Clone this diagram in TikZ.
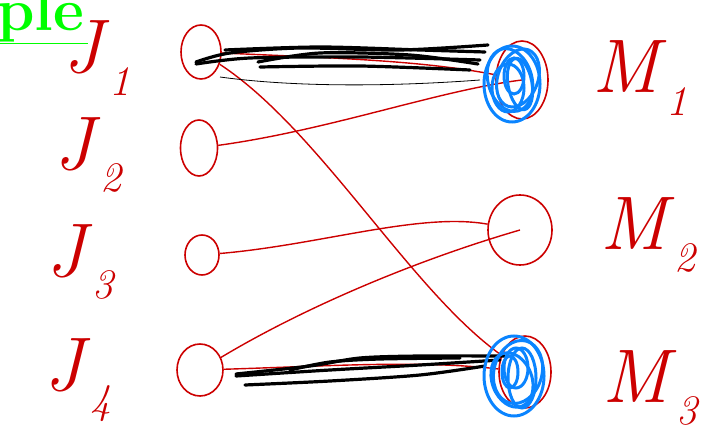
\documentclass[tikz,border=0pt]{standalone}
\usetikzlibrary{shapes.geometric}
\definecolor{pred}{RGB}{204,0,0}
\definecolor{pblue}{RGB}{10,132,255}
\definecolor{pgreen}{RGB}{0,255,0}
\newcommand{\hw}[2]{\textit{#1}\raisebox{-0.3em}{\fontsize{42}{42}\selectfont\itshape #2}}
\tikzset{
  ring/.style={draw=pred, ellipse, line width=1.6pt, inner sep=0pt},
  link/.style={draw=pred, line width=1.4pt},
  ink/.style={draw=black, line width=3.2pt, line cap=round, line join=round},
  blot/.style={draw=pblue, line width=3pt},
  lbl/.style={text=pred, font=\fontsize{76}{76}\selectfont, inner sep=0pt}
}
\begin{document}
\begin{tikzpicture}[x=1pt,y=-1pt]
\useasboundingbox (0,0) rectangle (706,435);
% clipped title
\node[anchor=base west, inner sep=0pt, text=pgreen, font=\fontsize{60}{60}\selectfont\bfseries] (title) at (-3,31) {ple};
\draw[pgreen, line width=1pt] (0,44) -- (88,44);
% labels
\node[lbl] (lj1) at (97,58) {\hw{J}{1}};
\node[lbl] (lj2) at (88,155) {\hw{J}{2}};
\node[lbl] (lj3) at (80,262) {\hw{J}{3}};
\node[lbl] (lj4) at (78,380) {\hw{J}{4}};
\node[lbl] (lm1) at (640,78) {\hw{M}{1}};
\node[lbl] (lm2) at (648,235) {\hw{M}{2}};
\node[lbl] (lm3) at (650,388) {\hw{M}{3}};
% left circles
\node[ring, minimum width=40pt, minimum height=54pt] (j1) at (201,52) {};
\node[ring, minimum width=37pt, minimum height=56pt] (j2) at (199,148) {};
\node[ring, minimum width=34pt, minimum height=40pt] (j3) at (202,255) {};
\node[ring, minimum width=46pt, minimum height=52pt] (j4) at (200,370) {};
% right circles
\node[ring, minimum width=52pt, minimum height=78pt] (m1) at (522,80) {};
\node[ring, minimum width=64pt, minimum height=70pt] (m2) at (520,230) {};
\node[ring, minimum width=52pt, minimum height=72pt] (m3) at (525,372) {};
% connectors
\draw[link] (j1) .. controls (330,58) and (420,60) .. (m1);
\draw[link] (j1) .. controls (320,130) and (410,290) .. (m3);
\draw[link] (j2) .. controls (330,130) and (440,90) .. (m1.center);
\draw[link] (j3) .. controls (320,245) and (420,212) .. (m2);
\draw[link] (j4) .. controls (300,310) and (410,262) .. (m2.center);
\draw[link] (j4) .. controls (330,366) and (420,360) .. (m3);
% thin black stroke
\draw[black, line width=0.8pt] (220,77) .. controls (300,88) and (400,86) .. (480,80);
% black scribbles J1-M1
\draw[ink] plot[smooth] coordinates {(196,62) (230,53) (300,48) (400,50) (488,45)};
\draw[ink] plot[smooth] coordinates {(196,64) (250,58) (360,57) (480,60)};
\draw[ink] plot[smooth] coordinates {(258,62) (320,53) (410,55) (478,64)};
\draw[ink] plot[smooth] coordinates {(260,67) (360,66) (470,70)};
\draw[ink] plot[smooth] coordinates {(225,50) (320,47) (420,50) (485,52)};
% black scribbles J4-M3
\draw[ink] plot[smooth] coordinates {(236,374) (310,366) (360,358) (420,356) (505,356)};
\draw[ink] plot[smooth] coordinates {(236,376) (330,370) (420,365) (500,360)};
\draw[ink] plot[smooth] coordinates {(245,385) (330,381) (420,375) (485,366)};
\draw[ink] plot[smooth] coordinates {(290,370) (330,362) (380,359) (460,358)};
% blue blots
\draw[blot] (512,84) ellipse (28pt and 38pt);
\draw[blot, rotate around={15:(510,80)}] (510,80) ellipse (22pt and 32pt);
\draw[blot, rotate around={-20:(518,78)}] (518,78) ellipse (20pt and 30pt);
\draw[blot] (508,88) ellipse (16pt and 24pt);
\draw[blot, rotate around={10:(520,84)}] (520,84) ellipse (12pt and 26pt);
\draw[blot] (514,76) ellipse (10pt and 18pt);
\draw[blot] (514,376) ellipse (30pt and 40pt);
\draw[blot, rotate around={-15:(518,372)}] (518,372) ellipse (24pt and 32pt);
\draw[blot, rotate around={20:(512,380)}] (512,380) ellipse (20pt and 28pt);
\draw[blot] (522,378) ellipse (14pt and 30pt);
\draw[blot] (516,368) ellipse (12pt and 20pt);
\draw[blot] (510,372) ellipse (8pt and 16pt);
\end{tikzpicture}
\end{document}
